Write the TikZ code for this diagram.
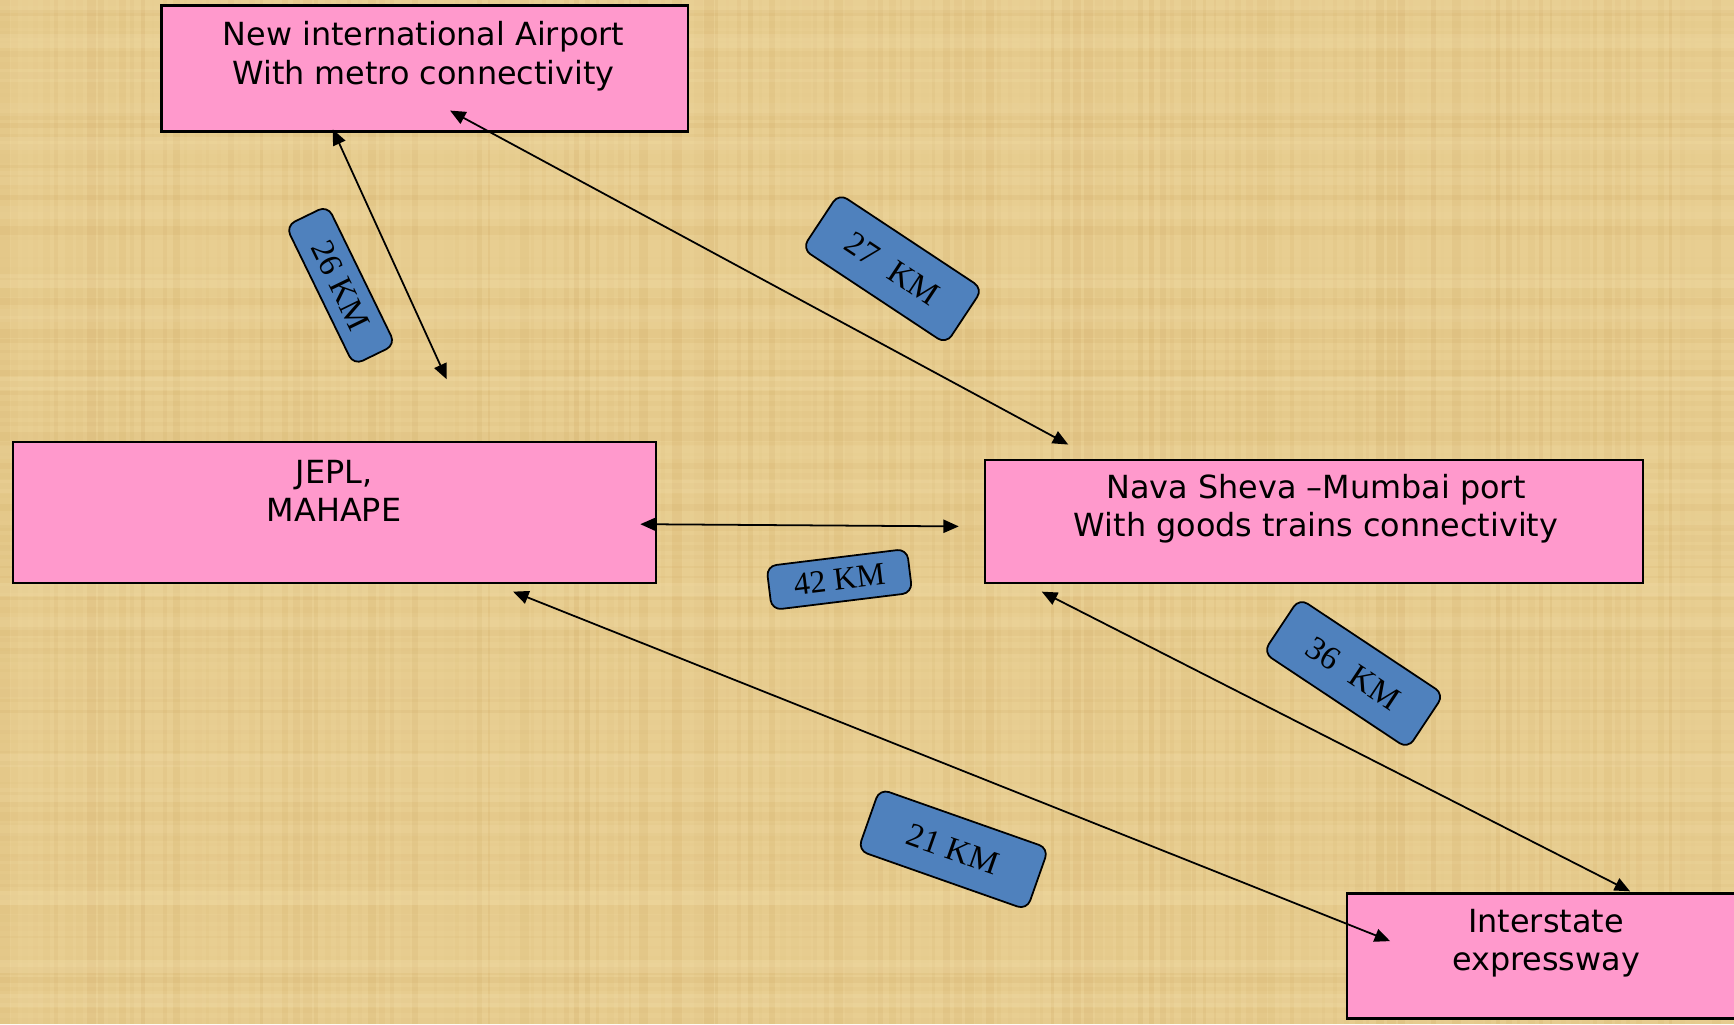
\documentclass[tikz,border=0pt]{standalone}
\usepackage{fontspec}
\setmainfont{DejaVu Sans}
\newfontfamily\labserif{Liberation Serif}
\usetikzlibrary{arrows.meta,calc}
\definecolor{bgtan}{RGB}{232,206,145}
\definecolor{bgdark}{RGB}{196,152,78}
\definecolor{bglight}{RGB}{246,228,180}
\definecolor{pinkbox}{RGB}{255,153,204}
\definecolor{bluelab}{RGB}{79,129,189}
\tikzset{
 place/.style={draw=black,line width=1pt,fill=pinkbox,inner sep=0pt},
 placetext/.style={font=\fontsize{14.4}{17.5}\selectfont,align=center,inner sep=0pt},
 dist/.style={draw=black,line width=0.8pt,fill=bluelab,rounded corners=4.5pt,inner sep=0pt,
   font=\labserif\fontsize{15}{16}\selectfont},
 link/.style={line width=0.8pt,{Triangle[length=7pt,width=6pt]}-{Triangle[length=7pt,width=6pt]}}
}
\begin{document}
\begin{tikzpicture}[x=0.5pt,y=-0.5pt]
\useasboundingbox (0,0) rectangle (1568,926);
\clip (0,0) rectangle (1568,926);
% background (papyrus-like)
\fill[bgtan] (0,0) rectangle (1568,926);
\pgfmathsetseed{11}
\foreach \i in {0,...,160}{
  \pgfmathsetmacro\op{rnd*0.16}
  \pgfmathsetmacro\wd{2+rnd*7}
  \fill[bgdark,opacity=\op] (\i*9.8,0) rectangle ++(\wd,926);
}
\foreach \j in {0,...,100}{
  \pgfmathsetmacro\op{rnd*0.12}
  \pgfmathsetmacro\ht{2+rnd*6}
  \fill[bgdark,opacity=\op] (0,\j*9.3) rectangle ++(1568,\ht);
}
\foreach \j in {0,...,30}{
  \pgfmathsetmacro\op{rnd*0.25}
  \fill[bglight,opacity=\op] (0,\j*31) rectangle ++(1568,12);
}

% place boxes
\node[place,minimum width=238pt,minimum height=57pt] (airport) at (384,62) {};
\node[placetext] (airporttxt) at (383,51) {New international Airport\\With metro connectivity};

\node[place,minimum width=290.5pt,minimum height=63.5pt] (jepl) at (302.5,463.5) {};
\node[placetext] (jepltxt) at (302,444) {JEPL,\\MAHAPE};

\node[place,minimum width=297.5pt,minimum height=55.5pt] (nava) at (1188.5,471.5) {};
\node[placetext] (navatxt) at (1190,460) {Nava Sheva –Mumbai port\\With goods trains connectivity};

\node[place,minimum width=180pt,minimum height=56.5pt] (inter) at (1398,864.5) {};
\node[placetext] (intertxt) at (1398,853) {Interstate\\expressway};

% connector end points
\coordinate (aj1) at (301,117);
\coordinate (aj2) at (404,343);
\coordinate (an1) at (407,100);
\coordinate (an2) at (966,402);
\coordinate (jn1) at (579,474);
\coordinate (jn2) at (867,476);
\coordinate (ji1) at (464,535);
\coordinate (ji2) at (1257,851);
\coordinate (ni1) at (942,535);
\coordinate (ni2) at (1474,806);

\draw[link] (aj1) -- (aj2);
\draw[link] (an1) -- (an2);
\draw[link] (jn1) -- (jn2);
\draw[link] (ji1) -- (ji2);
\draw[link] (ni1) -- (ni2);

% distance labels
\node[dist,minimum width=70pt,minimum height=21pt,rotate=-64] (d26) at (308,258) {26 KM};
\node[dist,minimum width=78pt,minimum height=30pt,rotate=-33.5] (d27) at (807,243) {27\hspace{0.55em}KM};
\node[dist,minimum width=64pt,minimum height=20pt,rotate=7,font=\labserif\fontsize{14.5}{16}\selectfont] (d42) at (759,524) {42 KM};
\node[dist,minimum width=78.5pt,minimum height=29.5pt,rotate=-33.6] (d36) at (1224,609) {36\hspace{0.55em}KM};
\node[dist,minimum width=81pt,minimum height=29.5pt,rotate=-19.4] (d21) at (862,768) {21 KM};
\end{tikzpicture}
\end{document}
